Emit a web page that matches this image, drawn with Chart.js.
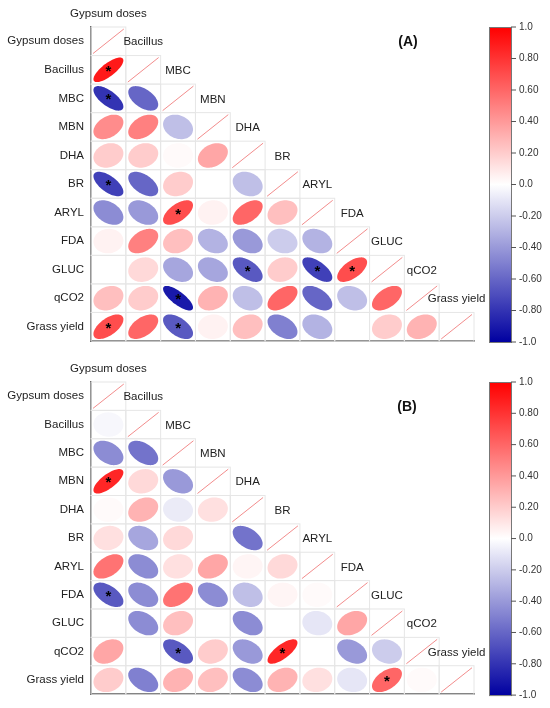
<!DOCTYPE html>
<html>
<head>
<meta charset="utf-8">
<script src="https://cdn.jsdelivr.net/npm/chart.js@4.4.0/dist/chart.umd.min.js"></script>
<style>
  body { margin: 0; background: #fff; overflow: hidden; }
  .panel { position: absolute; left: 0; width: 550px; }
</style>
</head>
<body>
<div class="panel" style="top:0;height:355px"><canvas id="corrA"></canvas></div>
<div class="panel" style="top:355px;height:353px"><canvas id="corrB"></canvas></div>
<script>
const variables = ['Gypsum doses', 'Bacillus', 'MBC', 'MBN', 'DHA', 'BR', 'ARYL', 'FDA', 'GLUC', 'qCO2', 'Grass yield'];

// lower triangle, row i holds correlations with columns 0..i-1
const corrA = [
    [0.90],
    [-0.80, -0.60],
    [0.45, 0.50, -0.25],
    [0.20, 0.20, 0.02, 0.35],
    [-0.75, -0.60, 0.20, 0.00, -0.25],
    [-0.45, -0.40, 0.70, 0.05, 0.60, 0.25],
    [0.05, 0.50, 0.25, -0.30, -0.40, -0.20, -0.30],
    [0.00, 0.15, -0.35, -0.35, -0.65, 0.20, -0.75, 0.70],
    [0.25, 0.20, -0.90, 0.30, -0.25, 0.60, -0.60, -0.25, 0.60],
    [0.70, 0.60, -0.65, 0.05, 0.25, -0.50, -0.30, 0.00, 0.20, 0.30]
];
const sigA = [[1, 0], [2, 0], [5, 0], [6, 2], [8, 4], [8, 6], [8, 7], [9, 2], [10, 0], [10, 2]];

const corrB = [
    [-0.03],
    [-0.45, -0.55],
    [0.85, 0.15, -0.40],
    [0.02, 0.30, -0.08, 0.12],
    [0.12, -0.35, 0.15, 0.00, -0.55],
    [0.55, -0.45, 0.12, 0.35, 0.04, 0.15],
    [-0.65, -0.45, 0.55, -0.45, -0.25, 0.04, 0.02],
    [0.00, -0.45, 0.25, 0.00, -0.45, 0.00, -0.10, 0.35],
    [0.35, 0.00, -0.65, 0.20, -0.40, 0.85, 0.00, -0.40, -0.20],
    [0.20, -0.50, 0.30, 0.25, -0.45, 0.30, 0.12, -0.10, 0.60, 0.02]
];
const sigB = [[3, 0], [7, 0], [9, 2], [9, 5], [10, 8]];

const colorbarTicks = [1.0, 0.8, 0.6, 0.4, 0.2, 0.0, -0.2, -0.4, -0.6, -0.8, -1.0];
const colorbarLabels = ['1.0', '0.80', '0.60', '0.40', '0.20', '0.0', '-0.20', '-0.40', '-0.60', '-0.80', '-1.0'];

const FONT = '"Liberation Sans", Arial, Helvetica, sans-serif';

function corrColor(v) {
    const t = Math.min(1, Math.abs(v));
    const c = Math.round(255 * (1 - t));
    if (v >= 0) return `rgb(255, ${c}, ${c})`;
    return `rgb(${c}, ${c}, ${Math.round(255 - 95 * t)})`;
}

function buildPoints(corr, sig) {
    const pts = [];
    corr.forEach((row, k) => {
        row.forEach((v, j) => {
            const i = k + 1;
            pts.push({ x: j, y: i, v: v, sig: sig.some(s => s[0] === i && s[1] === j) });
        });
    });
    return pts;
}

function panelPlugin(tag, tagPos) {
    return {
        id: 'corrPanel',
        beforeDatasetsDraw(chart) {
            const { ctx, scales: { x, y } } = chart;
            const cw = x.getPixelForValue(1) - x.getPixelForValue(0);
            const ch = y.getPixelForValue(1) - y.getPixelForValue(0);
            ctx.save();
            ctx.strokeStyle = '#e6e6e6';
            ctx.lineWidth = 1;
            for (let i = 0; i < variables.length; i++) {
                for (let j = 0; j <= i; j++) {
                    const cx = x.getPixelForValue(j), cy = y.getPixelForValue(i);
                    ctx.strokeRect(cx - cw / 2, cy - ch / 2, cw, ch);
                }
            }
            ctx.restore();
        },
        afterDatasetsDraw(chart) {
            const { ctx, chartArea, scales: { x, y } } = chart;
            const cw = x.getPixelForValue(1) - x.getPixelForValue(0);
            const ch = y.getPixelForValue(1) - y.getPixelForValue(0);
            const s = 0.86;
            ctx.save();

            // ellipses (shape a bit rounder than the raw value, like the original)
            const meta = chart.getDatasetMeta(0);
            const data = chart.data.datasets[0].data;
            meta.data.forEach((pt, k) => {
                const d = data[k];
                const a = Math.acos(d.v * 0.85) / 2;
                ctx.beginPath();
                for (let n = 0; n <= 72; n++) {
                    const t = n / 72 * Math.PI * 2;
                    const ex = Math.cos(t + a) * 0.5 * s;
                    const ey = Math.cos(t - a) * 0.5 * s;
                    const px = pt.x + ex * cw, py = pt.y - ey * ch;
                    if (n === 0) ctx.moveTo(px, py); else ctx.lineTo(px, py);
                }
                ctx.closePath();
                ctx.fillStyle = corrColor(d.v);
                ctx.fill();
                if (d.sig) {
                    ctx.fillStyle = '#000';
                    ctx.font = `bold 15px ${FONT}`;
                    ctx.textAlign = 'center';
                    ctx.textBaseline = 'alphabetic';
                    ctx.fillText('*', pt.x, pt.y + 6);
                }
            });

            // diagonal lines
            const diag = chart.getDatasetMeta(1);
            ctx.strokeStyle = 'rgba(240, 120, 120, 0.85)';
            ctx.lineWidth = 1;
            diag.data.forEach(pt => {
                ctx.beginPath();
                ctx.moveTo(pt.x - cw / 2 + 2, pt.y + ch / 2 - 2);
                ctx.lineTo(pt.x + cw / 2 - 2, pt.y - ch / 2 + 2);
                ctx.stroke();
            });

            // column names along the diagonal
            ctx.fillStyle = '#222';
            ctx.font = `11.5px ${FONT}`;
            ctx.textAlign = 'center';
            ctx.textBaseline = 'middle';
            variables.forEach((name, j) => {
                ctx.fillText(name, x.getPixelForValue(j), y.getPixelForValue(j - 1) + 1);
            });

            // panel tag
            ctx.font = `bold 14px ${FONT}`;
            ctx.fillStyle = '#111';
            ctx.fillText(tag, tagPos[0], tagPos[1]);

            // colour bar
            const bx = 489, bw = 22;
            const top = chartArea.top, bottom = chartArea.bottom + 1;
            const grad = ctx.createLinearGradient(0, top, 0, bottom);
            for (let n = 0; n <= 20; n++) {
                grad.addColorStop(n / 20, corrColor(1 - n / 10));
            }
            ctx.fillStyle = grad;
            ctx.fillRect(bx, top, bw, bottom - top);
            ctx.strokeStyle = '#777';
            ctx.lineWidth = 1;
            ctx.strokeRect(bx + 0.5, top + 0.5, bw, bottom - top);
            ctx.font = `10px ${FONT}`;
            ctx.fillStyle = '#333';
            ctx.textAlign = 'left';
            colorbarTicks.forEach((v, k) => {
                const py = top + (1 - v) / 2 * (bottom - top);
                ctx.beginPath();
                ctx.moveTo(bx + bw, py);
                ctx.lineTo(bx + bw + 5, py);
                ctx.strokeStyle = '#555';
                ctx.stroke();
                ctx.fillText(colorbarLabels[k], bx + bw + 8, py);
            });
            ctx.restore();
        }
    };
}

function makePanel(canvasId, corr, sig, tag, tagPos, bottomPad) {
    new Chart(document.getElementById(canvasId), {
        type: 'scatter',
        data: {
            datasets: [
                { data: buildPoints(corr, sig), pointRadius: 0, pointHoverRadius: 0 },
                { data: variables.map((_, i) => ({ x: i, y: i })), pointRadius: 0, pointHoverRadius: 0 }
            ]
        },
        options: {
            responsive: true,
            maintainAspectRatio: false,
            animation: false,
            events: [],
            layout: { padding: { top: 27, bottom: bottomPad, right: 76, left: 0 } },
            plugins: { legend: { display: false }, tooltip: { enabled: false } },
            scales: {
                x: {
                    type: 'linear',
                    min: -0.5,
                    max: 10.5,
                    ticks: { display: false },
                    grid: { display: false, drawTicks: false },
                    border: { display: true, color: '#444', width: 1.5 },
                    afterFit: s => { s.height = 0; }
                },
                y: {
                    type: 'linear',
                    min: -0.5,
                    max: 10.5,
                    reverse: true,
                    afterBuildTicks: s => { s.ticks = variables.map((_, i) => ({ value: i })); },
                    ticks: {
                        autoSkip: false,
                        padding: 7,
                        color: '#222',
                        font: { family: FONT, size: 11.5 },
                        callback: v => variables[v]
                    },
                    grid: { display: false, drawTicks: false },
                    border: { display: true, color: '#444', width: 1.5 },
                    afterFit: s => { s.width = 91; }
                }
            }
        },
        plugins: [panelPlugin(tag, tagPos)]
    });
}

makePanel('corrA', corrA, sigA, '(A)', [408, 42], 14);
makePanel('corrB', corrB, sigB, '(B)', [407, 52], 13);
</script>
</body>
</html>
